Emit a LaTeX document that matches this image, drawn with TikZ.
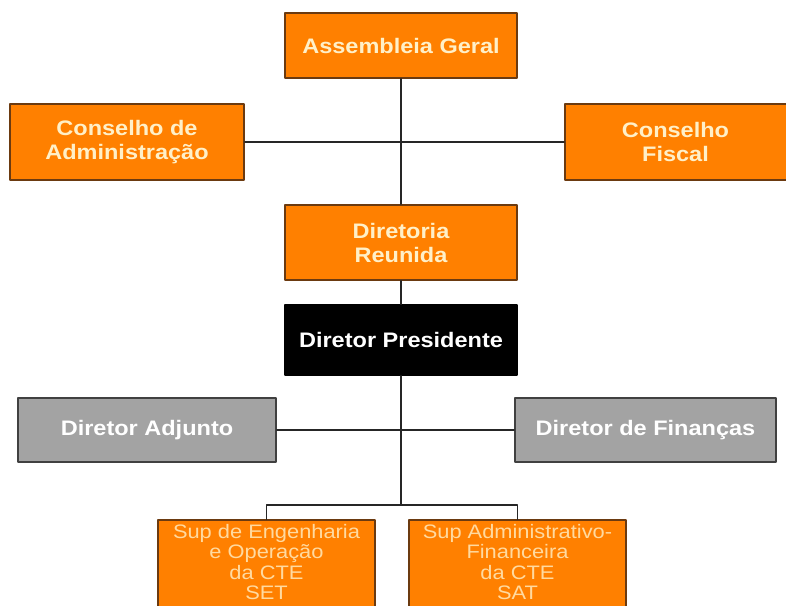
\documentclass[tikz,border=0pt]{standalone}
\usepackage{fontspec}
\setmainfont[FakeStretch=1.12]{Liberation Sans}
\definecolor{laranja}{HTML}{FF8000}
\definecolor{borda}{HTML}{6B3A10}
\definecolor{creme}{HTML}{FFF0C8}
\definecolor{cinza}{HTML}{A3A3A3}
\newcommand{\pilha}[1]{\begin{tabular}{@{}c@{}}#1\end{tabular}}
\tikzset{
  caixa/.style={draw=borda, fill=laranja, text=creme, line width=1.5pt, align=center, inner sep=0pt,
    font=\fontsize{21}{24}\selectfont\bfseries},
  caixacinza/.style={caixa, draw=black!75, fill=cinza, text=white},
  caixapreta/.style={caixa, draw=black, fill=black, text=white},
  caixasup/.style={caixa, text=creme!80!orange, font=\fontsize{19.5}{20.5}\selectfont}
}
\begin{document}
\begin{tikzpicture}[x=1pt, y=-1pt, line join=round, line cap=round]
		\useasboundingbox (0,0) rectangle (786,605);
		\coordinate (ramo) at (401,505);
		\node[caixa, minimum width=232pt, minimum height=65pt] (AG) at (401,45.5) {Assembleia Geral};
		\node[caixa, minimum width=234pt, minimum height=76pt] (CA) at (127,142) {Conselho de\\Administração};
		\node[caixa, minimum width=235pt, minimum height=76pt] (CF) at (682.5,142) {\hspace*{-14pt}Conselho\\\hspace*{-14pt}Fiscal};
		\node[caixa, minimum width=232pt, minimum height=75pt] (DR) at (401,242.5) {Diretoria\\Reunida};
		\node[caixapreta, minimum width=232pt, minimum height=70pt] (DP) at (401,340) {Diretor Presidente};
		\node[caixacinza, minimum width=258pt, minimum height=64pt] (DA) at (147,430) {Diretor Adjunto};
		\node[caixacinza, minimum width=261pt, minimum height=64pt] (DF) at (645.5,430) {Diretor de Finanças};
		\node[caixasup, minimum width=217pt, minimum height=90pt] (SE) at (266.5,565) {\pilha{Sup de Engenharia\\e Operação\\da CTE\\SET}};
		\node[caixasup, minimum width=217pt, minimum height=90pt] (SA) at (517.5,565) {\pilha{Sup Administrativo-\\Financeira\\da CTE\\SAT}};
		\draw[line width=1.3pt, black!85] (AG) -- (DR) (CA) -- (CF) (DR) -- (DP) (DP) -- (ramo) (DA) -- (DF)
		(SE) |- (ramo) -| (SA);
	\end{tikzpicture}
\end{document}
